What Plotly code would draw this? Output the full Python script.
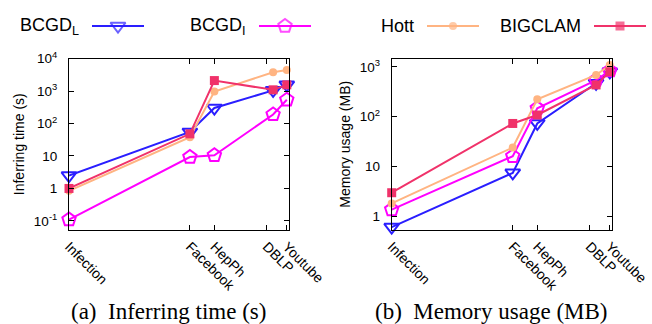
import plotly.graph_objects as go

# ---- data ----
datasets = ["Infection", "Facebook", "HepPh", "DBLP", "Youtube"]
x_ticks = [0, 121, 145.5, 198, 218]          # tick positions of datasets
x_points = [0, 121, 145.5, 204.3, 218]       # plotted positions of datasets

series_names = ["BCGD<sub>L</sub>", "BCGD<sub>I</sub>", "Hott", "BIGCLAM"]

time_bcgd_l = [2.5, 55, 300, 1050, 1550]
time_bcgd_i = [0.11, 9.3, 10.5, 190, 540]
time_hott = [0.85, 38, 960, 3800, 4450]
time_bigclam = [1.0, 48, 2100, 1090, 1550]

mem_bcgd_l = [0.6, 7.4, 73, 470, 800]
mem_bcgd_i = [1.35, 16, 147, 545, 840]
mem_hott = [1.8, 24, 223, 690, 1090]
mem_bigclam = [2.95, 73, 108, 435, 800]

left_ticks = [0.1, 1, 10, 100, 1000, 10000]
left_ticktext = ["10<sup>-1</sup>", "1", "10", "10<sup>2</sup>", "10<sup>3</sup>", "10<sup>4</sup>"]
right_ticks = [1, 10, 100, 1000]
right_ticktext = ["1", "10", "10<sup>2</sup>", "10<sup>3</sup>"]

# ---- styles ----
colors = ["#2a1eff", "#ff00ff", "#ffb482", "#f0326a"]
symbols = ["triangle-down-open", "pentagon-open", "circle", "square"]
msizes = [13, 14, 8, 9]
mlw = [2, 2, 0, 0]

W, H = 652, 324
FONT = "Liberation Sans"

fig = go.Figure()

def add_series(xa, ya, ys, i):
    fig.add_trace(go.Scatter(
        x=x_points, y=ys, mode="lines+markers", xaxis=xa, yaxis=ya,
        line=dict(color=colors[i], width=2),
        marker=dict(symbol=symbols[i], size=msizes[i], color=colors[i],
                    line=dict(color=colors[i], width=mlw[i])),
        showlegend=False, cliponaxis=False))

for i, ys in enumerate([time_bcgd_l, time_bcgd_i, time_hott, time_bigclam]):
    add_series("x", "y", ys, i)
for i, ys in enumerate([mem_bcgd_l, mem_bcgd_i, mem_hott, mem_bigclam]):
    add_series("x2", "y2", ys, i)

# ---- legend (text then key, gnuplot style) ----
LEG_TOP = 50  # legend strip height in px
key_starts = [92, 259, 427, 594]
key_len = 52
key_y = 26
for i, name in enumerate(series_names):
    x0 = key_starts[i]
    fig.add_trace(go.Scatter(
        x=[x0, x0 + key_len / 2, x0 + key_len], y=[key_y] * 3,
        mode="lines+markers", xaxis="x3", yaxis="y3",
        line=dict(color=colors[i], width=2),
        marker=dict(symbol=symbols[i], size=[0, msizes[i], 0], color=colors[i],
                    line=dict(color=colors[i], width=mlw[i])),
        showlegend=False, hoverinfo="skip", cliponaxis=False))
    fig.add_annotation(x=(x0 - 11) / W, y=1 - key_y / H, xref="paper", yref="paper",
                       text=name, showarrow=False, xanchor="right", yanchor="middle",
                       font=dict(family=FONT, size=18, color="black"))

axis_common = dict(showline=True, linecolor="black", linewidth=1, mirror="ticks",
                   ticks="inside", ticklen=5, tickcolor="black", tickwidth=1,
                   showgrid=False, zeroline=False, automargin=False)

xfont = dict(family=FONT, size=14, color="black")
yfont = dict(family=FONT, size=13.5, color="black")
tfont = dict(family=FONT, size=14, color="black")

xdom_l = [69 / W, 289.3 / W]
xdom_r = [391.7 / W, 612.3 / W]
ydom = [1 - 230 / H, 1 - 58.5 / H]

fig.update_layout(
    template="none",
    width=W, height=H, margin=dict(l=0, r=0, t=0, b=0, pad=0), autosize=False,
    plot_bgcolor="rgba(0,0,0,0)", paper_bgcolor="white",
    showlegend=False,
    xaxis=dict(domain=xdom_l, anchor="y", range=[0, 220.5], tickmode="array",
               tickvals=x_ticks, ticktext=datasets, tickangle=45,
               ticklabelstandoff=2, tickfont=xfont, **axis_common),
    yaxis=dict(domain=ydom, anchor="x", type="log", range=[-1.28, 4.002],
               tickmode="array", tickvals=left_ticks, ticktext=left_ticktext,
               ticklabelstandoff=8, tickfont=yfont,
               title=dict(text="Inferring time (s)", standoff=5, font=tfont),
               **axis_common),
    xaxis2=dict(domain=xdom_r, anchor="y2", range=[0, 220.5], tickmode="array",
                tickvals=x_ticks, ticktext=datasets, tickangle=45,
                ticklabelstandoff=2, tickfont=xfont, **axis_common),
    yaxis2=dict(domain=ydom, anchor="x2", type="log", range=[-0.28, 3.17],
                tickmode="array", tickvals=right_ticks, ticktext=right_ticktext,
                ticklabelstandoff=8, tickfont=yfont,
                title=dict(text="Memory usage (MB)", standoff=5, font=tfont),
                **axis_common),
    xaxis3=dict(domain=[0, 1], anchor="y3", range=[0, W], visible=False,
                fixedrange=True, automargin=False),
    yaxis3=dict(domain=[1 - LEG_TOP / H, 1], anchor="x3", range=[LEG_TOP, 0],
                visible=False, fixedrange=True, automargin=False),
)

# captions
fig.add_annotation(x=168.5 / W, y=1 - 311 / H, xref="paper", yref="paper",
                   text="(a)  Inferring time (s)", showarrow=False,
                   xanchor="center", yanchor="middle",
                   font=dict(family="Liberation Serif", size=23, color="black"))
fig.add_annotation(x=491.5 / W, y=1 - 311 / H, xref="paper", yref="paper",
                   text="(b)  Memory usage (MB)", showarrow=False,
                   xanchor="center", yanchor="middle",
                   font=dict(family="Liberation Serif", size=23, color="black"))

fig.write_html("out.html")
